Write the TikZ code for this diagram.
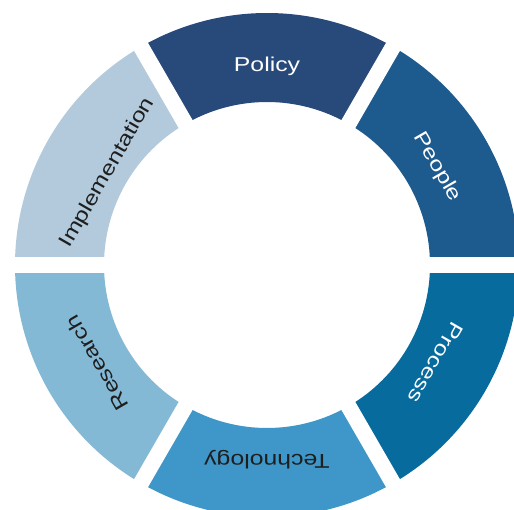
\documentclass[tikz,border=0pt]{standalone}
\usepackage{fontspec}
\setmainfont{Liberation Sans}
\definecolor{cPolicy}{HTML}{284A7B}
\definecolor{cPeople}{HTML}{1D5A8E}
\definecolor{cProcess}{HTML}{086B9E}
\definecolor{cTech}{HTML}{3E97C8}
\definecolor{cResearch}{HTML}{84B9D6}
\definecolor{cImpl}{HTML}{B2CADB}
\definecolor{darktext}{HTML}{1E1E1E}
\newcommand{\seglabel}[1]{\scalebox{1.24}[1]{#1}}
\begin{document}
\begin{tikzpicture}[x=1pt,y=-1pt,
  seglab/.style={anchor=base, inner sep=0pt, font=\fontsize{20}{21}\selectfont},
  gapline/.style={white, line width=16pt}]
\useasboundingbox (0,0) rectangle (514,510);
\fill[white] (0,0) rectangle (514,510);
\clip (0,0) rectangle (514,510);
\begin{scope}[shift={(267,265)}, y=1pt]
  \def\Ro{252}\def\Ri{163}
  % segments
  \fill[cPolicy]   (60:\Ro)  arc[start angle=60,  end angle=120, radius=\Ro] -- (120:\Ri) arc[start angle=120, end angle=60,  radius=\Ri] -- cycle;
  \fill[cPeople]   (0:\Ro)   arc[start angle=0,   end angle=60,  radius=\Ro] -- (60:\Ri)  arc[start angle=60,  end angle=0,   radius=\Ri] -- cycle;
  \fill[cProcess]  (-60:\Ro) arc[start angle=-60, end angle=0,   radius=\Ro] -- (0:\Ri)   arc[start angle=0,   end angle=-60, radius=\Ri] -- cycle;
  \fill[cTech]     (-120:\Ro) arc[start angle=-120, end angle=-60, radius=\Ro] -- (-60:\Ri) arc[start angle=-60, end angle=-120, radius=\Ri] -- cycle;
  \fill[cResearch] (180:\Ro) arc[start angle=180, end angle=240, radius=\Ro] -- (240:\Ri) arc[start angle=240, end angle=180, radius=\Ri] -- cycle;
  \fill[cImpl]     (120:\Ro) arc[start angle=120, end angle=180, radius=\Ro] -- (180:\Ri) arc[start angle=180, end angle=120, radius=\Ri] -- cycle;
  % gaps
  \coordinate (g0) at (0:270);   \coordinate (g180) at (180:270);
  \coordinate (g60) at (60:270); \coordinate (g240) at (240:270);
  \coordinate (g120) at (120:270); \coordinate (g300) at (300:270);
  \draw[gapline] (g0) -- (g180);
  \draw[gapline] (g60) -- (g240);
  \draw[gapline] (g120) -- (g300);
  % labels
  \node[seglab, text=white, rotate=0]       (policy)  at (90:193)  {\seglabel{Policy}};
  \node[seglab, text=white, rotate=-60]     (people)  at (30:191)  {\seglabel{People}};
  \node[seglab, text=white, rotate=-120]    (process) at (-30:188) {\seglabel{Process}};
  \node[seglab, text=darktext, rotate=180]  (tech)    at (-90:189) {\seglabel{Technology}};
  \node[seglab, text=darktext, rotate=120]  (research) at (210:189) {\seglabel{Research}};
  \node[seglab, text=darktext, rotate=60]   (impl)    at (150:179) {\seglabel{Implementation}};
\end{scope}
\end{tikzpicture}
\end{document}
